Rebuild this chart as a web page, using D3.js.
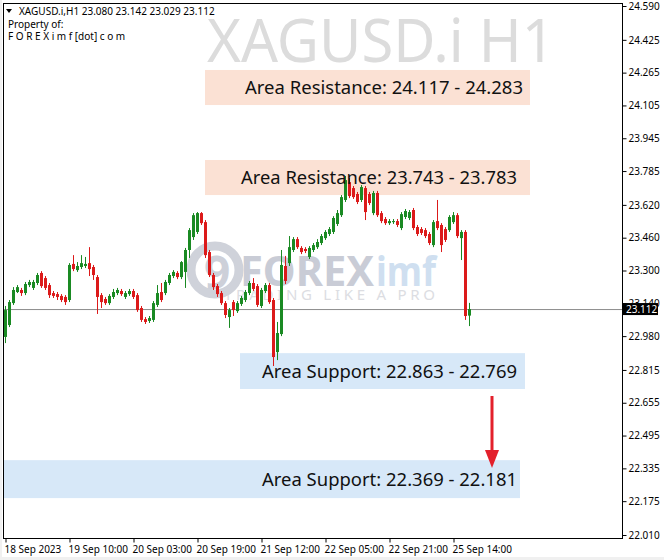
<!DOCTYPE html>
<html><head><meta charset="utf-8">
<script src="https://cdn.jsdelivr.net/npm/d3@7"></script>
<style>
html,body{margin:0;padding:0;background:#fff;}
svg{display:block;}
text{font-family:"Noto Sans","DejaVu Sans",sans-serif;}
</style></head>
<body>
<svg id="chart" width="664" height="560"></svg>
<script>
// ---------- DATA ----------
const symbol = "XAGUSD.i,H1";
const lastOHLC = ["23.080","23.142","23.029","23.112"];
const opens = [22.976,23.034,23.141,23.195,23.205,23.190,23.229,23.215,23.239,23.288,23.263,23.229,23.190,23.185,23.176,23.171,23.156,23.332,23.302,23.317,23.322,23.336,23.317,23.268,23.180,23.161,23.141,23.171,23.190,23.200,23.171,23.185,23.200,23.180,23.117,23.063,23.054,23.059,23.132,23.195,23.190,23.239,23.273,23.288,23.268,23.293,23.400,23.463,23.488,23.580,23.536,23.390,23.278,23.224,23.190,23.141,23.073,23.146,23.102,23.137,23.156,23.190,23.239,23.224,23.127,23.200,23.229,23.156,22.902,22.990,23.322,23.336,23.400,23.453,23.410,23.405,23.366,23.400,23.414,23.434,23.458,23.478,23.488,23.527,23.570,23.644,23.731,23.702,23.673,23.644,23.702,23.673,23.580,23.678,23.580,23.551,23.531,23.536,23.541,23.507,23.561,23.556,23.595,23.512,23.502,23.497,23.478,23.424,23.541,23.522,23.502,23.497,23.536,23.570,23.458,23.488,23.080];
const highs = [23.127,23.156,23.219,23.229,23.215,23.244,23.254,23.254,23.288,23.297,23.273,23.239,23.200,23.195,23.185,23.180,23.336,23.375,23.341,23.375,23.366,23.414,23.327,23.278,23.190,23.171,23.185,23.210,23.215,23.210,23.200,23.210,23.210,23.190,23.127,23.073,23.078,23.151,23.229,23.239,23.254,23.288,23.302,23.297,23.346,23.410,23.507,23.580,23.585,23.585,23.546,23.400,23.288,23.234,23.200,23.151,23.117,23.156,23.151,23.176,23.205,23.249,23.263,23.234,23.215,23.239,23.239,23.166,23.049,23.400,23.371,23.468,23.463,23.463,23.419,23.414,23.419,23.434,23.453,23.478,23.497,23.512,23.565,23.595,23.668,23.761,23.751,23.712,23.683,23.717,23.712,23.683,23.688,23.688,23.590,23.561,23.551,23.551,23.551,23.585,23.600,23.595,23.605,23.522,23.512,23.507,23.488,23.546,23.644,23.531,23.512,23.570,23.585,23.580,23.497,23.497,23.142];
const lows = [22.946,23.024,23.132,23.190,23.176,23.180,23.219,23.205,23.229,23.215,23.205,23.166,23.166,23.156,23.146,23.132,23.146,23.297,23.293,23.307,23.312,23.273,23.254,23.088,23.117,23.132,23.132,23.161,23.180,23.176,23.161,23.176,23.161,23.098,23.049,23.039,23.044,23.049,23.122,23.146,23.180,23.229,23.263,23.258,23.258,23.215,23.361,23.449,23.478,23.522,23.361,23.268,23.205,23.171,23.132,23.068,23.020,23.078,23.093,23.127,23.146,23.180,23.200,23.122,23.117,23.190,23.137,22.834,22.863,22.980,23.234,23.322,23.390,23.405,23.380,23.385,23.356,23.390,23.405,23.424,23.449,23.468,23.478,23.517,23.561,23.634,23.653,23.649,23.624,23.634,23.546,23.619,23.570,23.561,23.531,23.522,23.522,23.527,23.512,23.497,23.551,23.546,23.497,23.468,23.473,23.458,23.424,23.414,23.497,23.390,23.439,23.488,23.527,23.458,23.351,23.059,23.029];
const closes = [23.107,23.146,23.205,23.219,23.190,23.234,23.244,23.244,23.278,23.224,23.215,23.180,23.176,23.171,23.156,23.146,23.327,23.307,23.322,23.336,23.332,23.307,23.278,23.171,23.146,23.141,23.176,23.195,23.205,23.185,23.190,23.200,23.171,23.107,23.059,23.049,23.068,23.141,23.190,23.156,23.244,23.278,23.293,23.268,23.341,23.400,23.497,23.570,23.580,23.531,23.375,23.278,23.219,23.185,23.141,23.083,23.107,23.107,23.141,23.166,23.195,23.239,23.210,23.132,23.205,23.229,23.146,22.878,22.995,23.327,23.249,23.414,23.453,23.414,23.390,23.395,23.410,23.424,23.439,23.468,23.488,23.502,23.556,23.580,23.658,23.741,23.663,23.658,23.634,23.707,23.585,23.629,23.678,23.570,23.541,23.531,23.541,23.541,23.522,23.575,23.590,23.585,23.507,23.478,23.483,23.468,23.434,23.536,23.507,23.424,23.449,23.561,23.570,23.468,23.488,23.078,23.112];
const currentPrice = 23.112;
const priceTicks = [24.590,24.425,24.265,24.105,23.945,23.785,23.620,23.460,23.300,23.140,22.980,22.815,22.655,22.495,22.335,22.175,22.010];
const timeTickIndex = [0,16,32,48,64,80,96,112];
const timeTickLabels = ["18 Sep 2023","19 Sep 10:00","20 Sep 03:00","20 Sep 19:00","21 Sep 12:00","22 Sep 05:00","22 Sep 21:00","25 Sep 14:00"];
const zoneLabels = ["Area Resistance: 24.117 - 24.283","Area Resistance: 23.743 - 23.783","Area Support: 22.863 - 22.769","Area Support: 22.369 - 22.181"];
const zoneTop = [24.278,23.839,22.897,22.375];
const zoneBottom = [24.107,23.668,22.722,22.190];
const zoneKind = ["res","res","sup","sup"];

// ---------- LAYOUT ----------
const svg = d3.select("#chart");
const plotL = 3, plotR = 622, plotT = 3, plotB = 538;
const x = d3.scaleLinear().domain([0, 116]).range([5, 469]);
const y = d3.scaleLinear().domain([22.010, 24.590]).range([535, 6]);
const hf = "'DejaVu Sans Condensed','Noto Sans',sans-serif";

// outer background
svg.append("rect").attr("width",664).attr("height",560).attr("fill","#f0f0f0");
svg.append("rect").attr("x",plotL-1).attr("y",0).attr("width",664-plotL+1).attr("height",557).attr("fill","#fff");

// watermark symbol
svg.append("text").attr("x",207).attr("y",62).attr("font-size",60)
  .attr("textLength",348).attr("lengthAdjust","spacingAndGlyphs")
  .attr("fill","#dcdcdc").text("XAGUSD.i H1");

// FOREXimf logo watermark
const logo = svg.append("g");
logo.append("text").attr("x",224).attr("y",300).attr("font-size",15)
  .attr("textLength",211).attr("lengthAdjust","spacing").attr("fill","#dcdde2").text("TRADING LIKE A PRO");
logo.append("circle").attr("cx",215).attr("cy",270).attr("r",24).attr("fill","#fff").attr("stroke","#cfd2da").attr("stroke-width",9);
logo.append("text").attr("x",204).attr("y",289).attr("font-size",46).attr("font-weight","bold").attr("fill","#cdd0d9").text("9");
logo.append("text").attr("x",240).attr("y",286).attr("font-size",42).attr("font-weight","bold")
  .attr("textLength",134).attr("lengthAdjust","spacingAndGlyphs").attr("fill","#c9ccd6").text("FOREX");
logo.append("text").attr("x",376).attr("y",286).attr("font-size",42).attr("font-weight","bold")
  .attr("textLength",60).attr("lengthAdjust","spacingAndGlyphs").attr("fill","#cfdff0").text("imf");

// zones
const zoneX = [[205,530],[205,530],[240,525],[3,520]];
const zoneTextX = [523,517,517,517];
zoneLabels.forEach((lab,i)=>{
  const col = zoneKind[i]==="res" ? "#fbe1d4" : "#d7e8f8";
  svg.append("rect").attr("x",zoneX[i][0]).attr("y",y(zoneTop[i]))
    .attr("width",zoneX[i][1]-zoneX[i][0]).attr("height",y(zoneBottom[i])-y(zoneTop[i]))
    .attr("fill",col);
});

// current price line
svg.append("line").attr("x1",plotL).attr("x2",plotR).attr("y1",y(currentPrice)+0.5).attr("y2",y(currentPrice)+0.5)
  .attr("stroke","#8c8c8c").attr("stroke-width",1);

// candles
const up = "#1a8a23", dn = "#dc1a1a";
const idx = d3.range(opens.length);
const g = svg.append("g");
g.selectAll(".wick").data(idx).join("line")
  .attr("x1",i=>x(i)+0.5).attr("x2",i=>x(i)+0.5)
  .attr("y1",i=>y(highs[i])).attr("y2",i=>y(lows[i]))
  .attr("stroke",i=>closes[i]>=opens[i]?up:dn).attr("stroke-width",1);
g.selectAll(".body").data(idx).join("rect")
  .attr("x",i=>x(i)-1).attr("width",3)
  .attr("y",i=>y(Math.max(opens[i],closes[i])))
  .attr("height",i=>Math.max(1,Math.abs(y(opens[i])-y(closes[i]))))
  .attr("fill",i=>closes[i]>=opens[i]?up:dn);

// zone texts (drawn above candles)
const zoneTextW = [278,276,255,255];
zoneLabels.forEach((lab,i)=>{
  const mid = (y(zoneTop[i])+y(zoneBottom[i]))/2;
  svg.append("text").attr("x",zoneTextX[i]).attr("y",mid+6.5).attr("text-anchor","end")
    .attr("font-size",18.5).attr("fill","#111")
    .attr("textLength",zoneTextW[i]).attr("lengthAdjust","spacingAndGlyphs").text(lab);
});

// red arrow
const ax = 492;
svg.append("line").attr("x1",ax).attr("x2",ax).attr("y1",396).attr("y2",455)
  .attr("stroke","#e3202b").attr("stroke-width",3);
svg.append("path").attr("d",`M${ax-7},450 L${ax+7},450 L${ax},468 Z`).attr("fill","#e3202b");

// frame
svg.append("rect").attr("x",plotL+0.5).attr("y",plotT+0.5).attr("width",plotR-plotL).attr("height",plotB-plotT)
  .attr("fill","none").attr("stroke","#000").attr("stroke-width",1);

// right axis
const yAxis = d3.axisRight(y).tickValues(priceTicks).tickFormat(d3.format(".3f")).tickSize(4).tickPadding(2);
const ya = svg.append("g").attr("transform",`translate(${plotR+0.5},0)`).call(yAxis);
ya.select(".domain").remove();
ya.selectAll("text").attr("font-size",10).attr("fill","#000").attr("font-family",hf);
ya.selectAll("line").attr("stroke","#000");

// current price label
svg.append("rect").attr("x",623).attr("y",y(currentPrice)-6).attr("width",35).attr("height",12).attr("fill","#000");
svg.append("text").attr("x",626).attr("y",y(currentPrice)+4).attr("font-size",10).attr("fill","#fff")
  .attr("font-family",hf).text(d3.format(".3f")(currentPrice));

// bottom axis
const xa = svg.append("g").attr("transform",`translate(0,${plotB+0.5})`)
  .call(d3.axisBottom(x).tickValues(timeTickIndex).tickFormat((d,i)=>timeTickLabels[i]).tickSize(4).tickPadding(3));
xa.select(".domain").remove();
xa.selectAll("line").attr("stroke","#000").attr("transform","translate(0.5,0)");
xa.selectAll("text").attr("text-anchor","start").attr("dx",-1).attr("font-size",10).attr("fill","#000")
  .attr("font-family",hf);

// header
svg.append("path").attr("d","M6,9 L12,9 L9,13 Z").attr("fill","#000");
svg.append("text").attr("x",19).attr("y",15).attr("font-size",10).attr("font-family",hf)
  .text(symbol + "  " + lastOHLC.join(" "));
svg.append("text").attr("x",8).attr("y",28).attr("font-size",10).attr("font-family",hf).text("Property of:");
svg.append("text").attr("x",8).attr("y",40).attr("font-size",10).attr("font-family",hf).text("F O R E X i m f [dot] c o m");
</script>
</body></html>
